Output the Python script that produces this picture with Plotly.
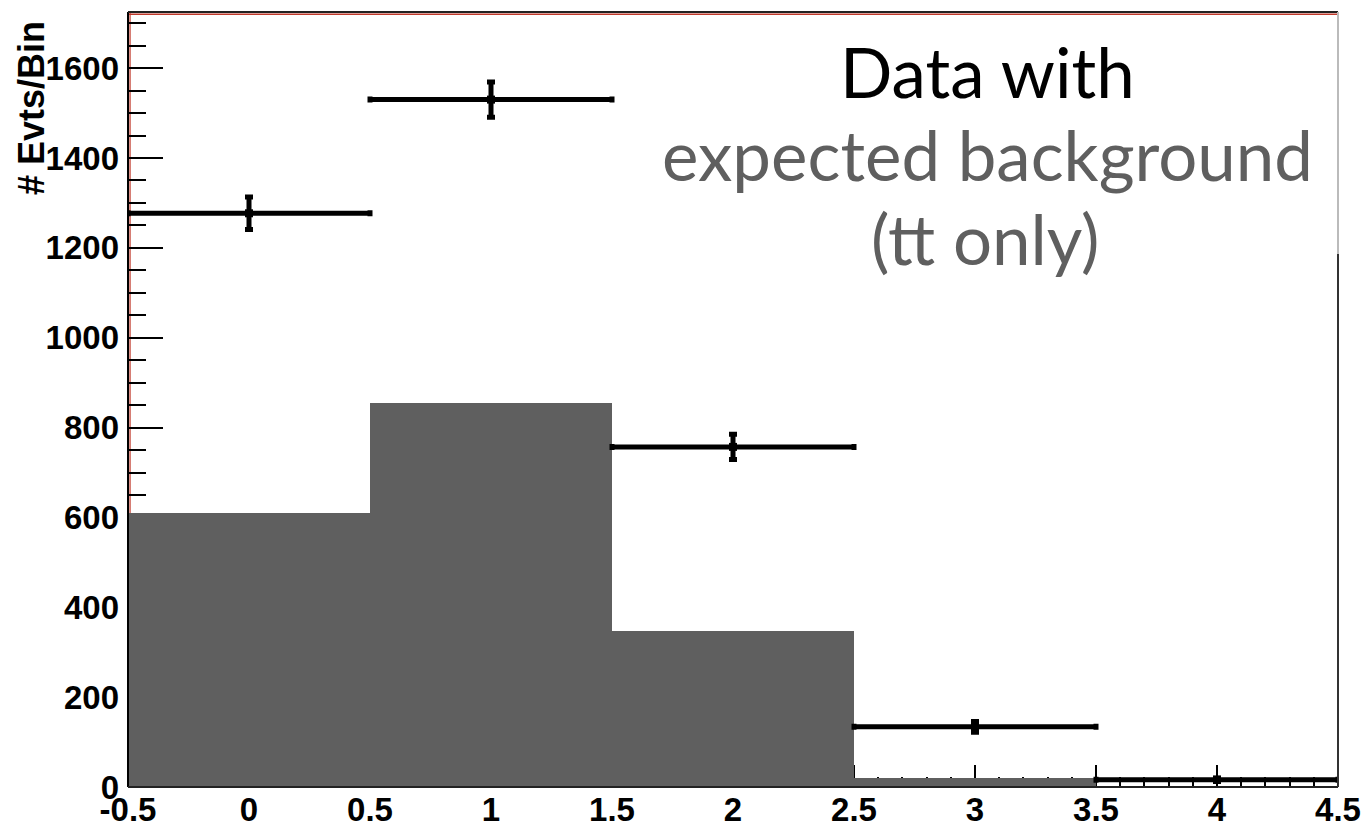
import plotly.graph_objects as go

# Bin centres of the histogram
bin_centers = [0, 1, 2, 3, 4]
bin_half_width = [0.5, 0.5, 0.5, 0.5, 0.5]

# Observed events per bin and their statistical errors
data_counts = [1277, 1530, 757, 134, 16]
data_errors = [36, 39, 28, 12, 4]

# Expected background (tt only)
background_counts = [610, 855, 348, 21, 2]

x_tickvals = [-0.5, 0, 0.5, 1, 1.5, 2, 2.5, 3, 3.5, 4, 4.5]
x_ticktext = ["-0.5", "0", "0.5", "1", "1.5", "2", "2.5", "3", "3.5", "4", "4.5"]
y_tickvals = [0, 200, 400, 600, 800, 1000, 1200, 1400, 1600]
y_ticktext = ["0", "200", "400", "600", "800", "1000", "1200", "1400", "1600"]

GRAY = "#5f5f5f"
AXIS_FONT = dict(family="Liberation Sans, Arial, sans-serif", size=33, color="black", weight="bold")
TEXT_FONT = "Lato, sans-serif"

fig = go.Figure()

fig.add_trace(go.Bar(
    x=bin_centers,
    y=background_counts,
    width=1.0,
    marker=dict(color=GRAY, line=dict(width=0)),
    showlegend=False,
))

fig.add_trace(go.Scatter(
    x=bin_centers,
    y=data_counts,
    mode="markers",
    marker=dict(symbol="square", size=8, color="black"),
    error_x=dict(type="data", array=bin_half_width, color="black", thickness=5, width=3),
    error_y=dict(type="data", array=data_errors, color="black", thickness=5, width=4),
    showlegend=False,
))

fig.update_xaxes(
    range=[-0.5, 4.5],
    tickvals=x_tickvals,
    ticktext=x_ticktext,
    ticks="inside",
    ticklen=22,
    tickwidth=2,
    tickcolor="black",
    minor=dict(dtick=0.1, tick0=-0.5, ticks="inside", ticklen=10, tickwidth=1.5, tickcolor="black"),
    showgrid=False,
    zeroline=False,
    showline=False,
    layer="below traces",
    tickfont=AXIS_FONT,
    ticklabelstandoff=0,
    automargin=False,
)

fig.update_yaxes(
    range=[0, 1725],
    tickvals=y_tickvals,
    ticktext=y_ticktext,
    ticks="inside",
    ticklen=35,
    tickwidth=2,
    tickcolor="black",
    minor=dict(dtick=50, tick0=0, ticks="inside", ticklen=18, tickwidth=2, tickcolor="black"),
    showgrid=False,
    zeroline=False,
    showline=False,
    layer="below traces",
    tickfont=AXIS_FONT,
    ticklabelstandoff=8,
    automargin=False,
)

# Plot frame
py = lambda p: (787 - p) / 775.0
px = lambda p: (p - 128) / 1210.0
frame = [
    # red inner lines (under the histogram)
    dict(type="line", xref="paper", yref="paper", x0=0.0017, x1=0.0017, y0=0, y1=1,
         line=dict(color="#c0392b", width=1.2), layer="below"),
    dict(type="line", xref="paper", yref="paper", x0=0, x1=1, y0=0.9972, y1=0.9972,
         line=dict(color="#c0392b", width=1.5), layer="below"),
    # dark outer lines
    dict(type="line", xref="paper", yref="paper", x0=0, x1=0, y0=0, y1=1,
         line=dict(color="black", width=2), layer="above"),
    dict(type="line", xref="paper", yref="paper", x0=0, x1=1, y0=1, y1=1,
         line=dict(color="#222222", width=2), layer="above"),
    dict(type="line", xref="paper", yref="paper", x0=0, x1=1, y0=0, y1=0,
         line=dict(color="#222222", width=2), layer="above"),
    dict(type="line", xref="paper", yref="paper", x0=1, x1=1, y0=py(254), y1=1,
         line=dict(color="#bbbbbb", width=2), layer="above"),
    dict(type="line", xref="paper", yref="paper", x0=1, x1=1, y0=0, y1=py(254),
         line=dict(color="#333333", width=2), layer="above"),
]


def caption(text, color, cx, cy, size):
    return dict(
        text=text, xref="paper", yref="paper",
        x=px(cx), y=py(cy), xanchor="center", yanchor="middle",
        showarrow=False,
        font=dict(family=TEXT_FONT, size=size, color=color),
    )


fig.update_layout(
    width=1362,
    height=827,
    margin=dict(l=128, r=24, t=12, b=40),
    paper_bgcolor="white",
    plot_bgcolor="white",
    bargap=0,
    shapes=frame,
    annotations=[
        dict(
            text="# Evts/Bin",
            xref="paper", yref="paper",
            x=px(31), y=py(108),
            xanchor="center", yanchor="middle",
            textangle=-90,
            showarrow=False,
            font=dict(family="Liberation Sans, Arial, sans-serif", size=36, color="black", weight="bold"),
        ),
        caption("Data with", "black", 987, 72, 69),
        caption("expected background", GRAY, 987, 154, 69),
        caption("(tt only)", GRAY, 985, 239, 69),
    ],
)

fig.write_html("out.html")
